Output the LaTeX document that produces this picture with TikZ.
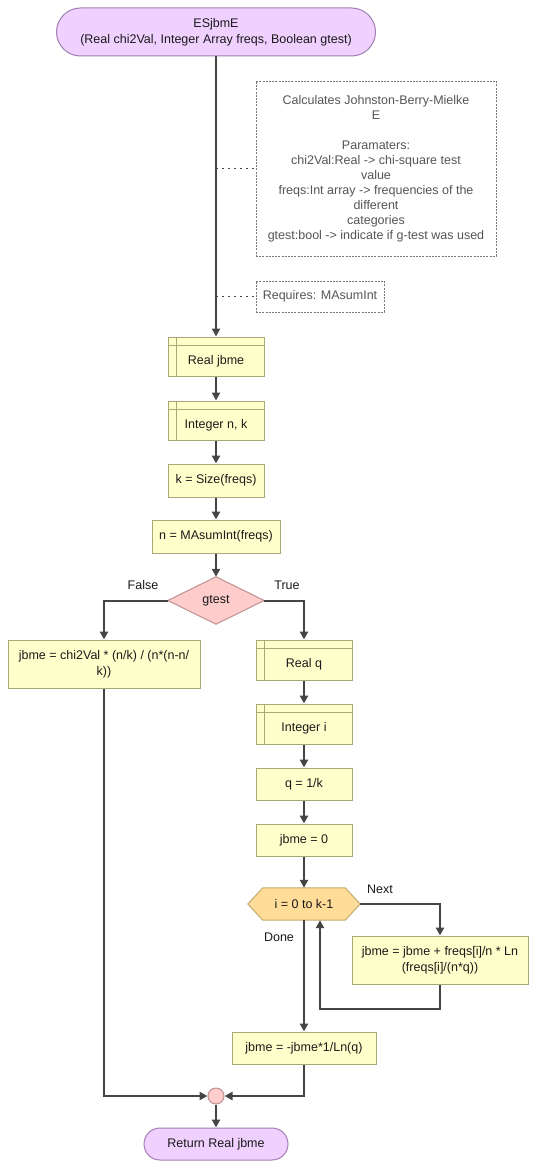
\documentclass[tikz,border=0pt]{standalone}
\usepackage{fontspec}
\setmainfont{Liberation Sans}
\usetikzlibrary{arrows.meta}
\definecolor{termfill}{HTML}{F0D0FF}
\definecolor{termdraw}{HTML}{A080B0}
\definecolor{procfill}{HTML}{FFFFCC}
\definecolor{procdraw}{HTML}{A8A878}
\definecolor{decfill}{HTML}{FFCCCC}
\definecolor{decdraw}{HTML}{C09090}
\definecolor{loopfill}{HTML}{FFDD99}
\definecolor{loopdraw}{HTML}{C8A870}
\definecolor{linecol}{HTML}{444444}
\definecolor{notecol}{HTML}{555555}
\definecolor{txtcol}{HTML}{1A1A1A}
\begin{document}
\begin{tikzpicture}[x=1pt,y=-1pt,
  every node/.style={font=\fontsize{12.5}{16}\selectfont, text=txtcol, inner sep=0pt},
  term/.style={draw=termdraw, fill=termfill, line width=1pt, align=center},
  proc/.style={draw=procdraw, fill=procfill, line width=1pt, align=center},
  decl/.style={proc, text height=18pt, text depth=2.5pt,
    path picture={
      \draw[procdraw, line width=1pt] ([yshift=-8pt]path picture bounding box.north west) -- ([yshift=-8pt]path picture bounding box.north east);
      \draw[procdraw, line width=1pt] ([xshift=8pt]path picture bounding box.north west) -- ([xshift=8pt]path picture bounding box.south west);}},
  note/.style={draw=notecol!80, line width=0.8pt, dash pattern=on 2pt off 1.2pt, align=center, text=notecol, font=\fontsize{12.5}{15}\selectfont},
  flow/.style={draw=linecol, line width=2pt, -{Triangle[length=8pt,width=8pt]}},
  dots/.style={draw=linecol, line width=1.5pt, dash pattern=on 1.5pt off 4.5pt},
  lbl/.style={font=\fontsize{12.5}{14}\selectfont}
]
\useasboundingbox[fill=white] (0,0) rectangle (537,1169);

% nodes
\node[term, minimum width=319pt, minimum height=48pt, rounded corners=24pt] (start) at (216,32)
  {ESjbmE\\(Real chi2Val, Integer Array freqs, Boolean gtest)};
\node[note, minimum width=240pt, minimum height=175pt] (comm) at (376,168.5)
  {Calculates Johnston-Berry-Mielke\\E\\[15pt]Paramaters:\\chi2Val:Real -> chi-square test\\value\\freqs:Int array -> frequencies of the\\different\\categories\\gtest:bool -> indicate if g-test was used};
\node[note, minimum width=128pt, minimum height=31pt, font=\fontsize{12.5}{14}\selectfont] (req) at (320,296.5) {Requires: MAsumInt};

\node[decl, minimum width=96pt, minimum height=39pt] (jbme) at (216,356.5) {Real jbme};
\node[decl, minimum width=96pt, minimum height=39pt] (intnk) at (216,420.5) {Integer n, k};
\node[proc, minimum width=96pt, minimum height=33pt] (ksize) at (216,480.5) {k = Size(freqs)};
\node[proc, minimum width=128pt, minimum height=33pt] (nsum) at (216,536.5) {n = MAsumInt(freqs)};
\node[minimum width=96pt, minimum height=47pt] (gtest) at (216,600.5) {};
\filldraw[fill=decfill, draw=decdraw, line width=1pt] (gtest.north) -- (gtest.east) -- (gtest.south) -- (gtest.west) -- cycle;
\node at (gtest.center) {gtest};

\node[proc, minimum width=192pt, minimum height=48pt] (fbox) at (104,664)
  {jbme = chi2Val * (n/k) / (n*(n-n/\\k))};
\node[decl, minimum width=96pt, minimum height=40pt] (realq) at (304,660) {Real q};
\node[decl, minimum width=96pt, minimum height=40pt] (inti) at (304,724) {Integer i};
\node[proc, minimum width=96pt, minimum height=32pt] (qk) at (304,784) {q = 1/k};
\node[proc, minimum width=96pt, minimum height=32pt] (jb0) at (304,840) {jbme = 0};

\node[minimum width=112pt, minimum height=32pt] (loop) at (304,904) {};
\filldraw[fill=loopfill, draw=loopdraw, line width=1pt]
  (loop.west) -- ([xshift=15pt]loop.north west) -- ([xshift=-15pt]loop.north east) -- (loop.east)
  -- ([xshift=-15pt]loop.south east) -- ([xshift=15pt]loop.south west) -- cycle;
\node at (loop.center) {i = 0 to k-1};

\node[proc, minimum width=176pt, minimum height=48pt] (body) at (440,960)
  {jbme = jbme + freqs[i]/n * Ln\\(freqs[i]/(n*q))};
\node[proc, minimum width=144pt, minimum height=32pt] (final) at (304,1048) {jbme = -jbme*1/Ln(q)};
\node[circle, draw=decdraw, fill=decfill, line width=1pt, minimum size=16pt] (merge) at (216,1096) {};
\node[term, minimum width=144pt, minimum height=32pt, rounded corners=16pt] (ret) at (216,1144) {Return Real jbme};

% labels
\node[lbl] (lfalse) at (143,585) {False};
\node[lbl] (ltrue) at (287,585) {True};
\node[lbl] (lnext) at (380,889) {Next};
\node[lbl] (ldone) at (279,937) {Done};

% connectors
\coordinate (d1) at (216,168.5);
\coordinate (d2) at (216,296.5);
\draw[dots] (d1) -- (comm.west);
\draw[dots] (d2) -- (req.west);
\draw[flow] (start.south) -- (jbme.north);
\draw[flow] (jbme.south) -- (intnk.north);
\draw[flow] (intnk.south) -- (ksize.north);
\draw[flow] (ksize.south) -- (nsum.north);
\draw[flow] (nsum.south) -- (gtest.north);
\draw[flow] (gtest.west) -| (fbox.north);
\draw[flow] (gtest.east) -| (realq.north);
\draw[flow] (realq.south) -- (inti.north);
\draw[flow] (inti.south) -- (qk.north);
\draw[flow] (qk.south) -- (jb0.north);
\draw[flow] (jb0.south) -- (loop.north);
\draw[flow] (loop.east) -| (body.north);
\draw[flow] (body.south) -- ++(0,24) -| ([xshift=16pt]loop.south);
\draw[flow] (loop.south) -- (final.north);
\draw[flow] (fbox.south) |- (merge.west);
\draw[flow] (final.south) |- (merge.east);
\draw[flow] (merge.south) -- (ret.north);
\end{tikzpicture}
\end{document}
